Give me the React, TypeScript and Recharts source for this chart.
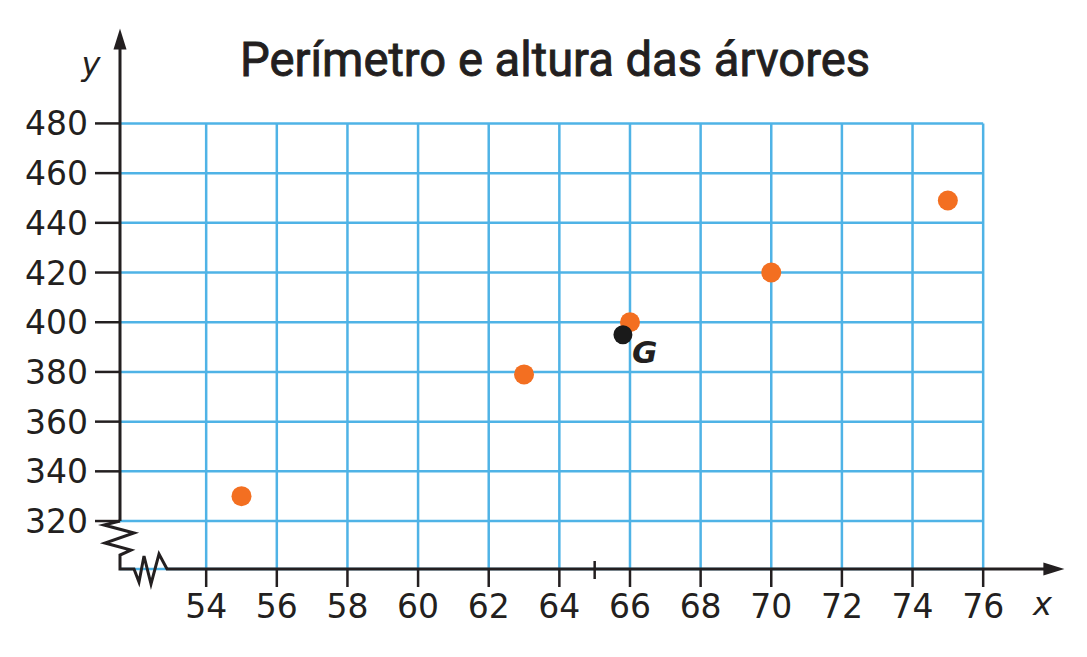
import React from "react";
import {
  ScatterChart,
  Scatter,
  XAxis,
  YAxis,
  ReferenceLine,
} from "recharts";

// perímetro (cm) e altura (cm) das árvores
const perimetro = [55, 63, 66, 70, 75];
const altura = [330, 379, 400, 420, 449];

// ponto médio G
const centroX = [65.8];
const centroY = [395];
const centroNome = ["G"];

const xTicks = [54, 56, 58, 60, 62, 64, 66, 68, 70, 72, 74, 76];
const yTicks = [320, 340, 360, 380, 400, 420, 440, 460, 480];
const xMarca = 65;

const TITLE = "Perímetro e altura das árvores";

const X_MIN = 51.56;
const X_MAX = 78.3;
const Y_MIN = 300.7;
const Y_MAX = 518.2;

const BLUE = "#4FB3E6";
const ORANGE = "#F36F21";
const DARK = "#231F20";
const FONT = "'DejaVu Sans', sans-serif";

const arvores = perimetro.map((p, i) => ({ x: p, y: altura[i] }));
const centro = centroX.map((x, i) => ({ x, y: centroY[i], nome: centroNome[i] }));

const XTick = (props: any) => {
  const { x, y, payload } = props;
  return (
    <text x={x} y={y} dy={27} textAnchor="middle" fontFamily={FONT} fontSize={33} fill={DARK}>
      {payload.value}
    </text>
  );
};

const YTick = (props: any) => {
  const { x, y, payload } = props;
  return (
    <text x={x} y={y} dy={12} textAnchor="end" fontFamily={FONT} fontSize={33} fill={DARK}>
      {payload.value}
    </text>
  );
};

// eixo y com seta e letra "y"
const EixoY = (p: any) => {
  const { x1, y1, x2, y2 } = p;
  return (
    <g>
      <line x1={x1} y1={y1} x2={x2} y2={y2 + 14} stroke={DARK} strokeWidth={3} />
      <polygon points={`${x2},${y2} ${x2 - 6.5},${y2 + 21} ${x2 + 6.5},${y2 + 21}`} fill={DARK} />
      <text x={x2 - 29} y={y2 + 46} textAnchor="middle" fontFamily={FONT} fontStyle="italic" fontSize={32} fill={DARK}>
        y
      </text>
    </g>
  );
};

// eixo x com seta e letra "x"
const EixoX = (p: any) => {
  const { x1, y1, x2 } = p;
  return (
    <g>
      <line x1={x1 + 46} y1={y1} x2={x2 - 14} y2={y1} stroke={DARK} strokeWidth={3} />
      <polygon points={`${x2},${y1} ${x2 - 21},${y1 - 6.5} ${x2 - 21},${y1 + 6.5}`} fill={DARK} />
      <text x={x2 - 22} y={y1 + 46} textAnchor="middle" fontFamily={FONT} fontStyle="italic" fontSize={32} fill={DARK}>
        x
      </text>
    </g>
  );
};

// quebra dos eixos (zigue-zague)
const Quebra = (p: any) => {
  const { x1, y1, y2 } = p;
  const pts = [
    [x1, y1],
    [x1 - 16, y1 + 4],
    [x1 + 14, y1 + 12],
    [x1 - 15, y1 + 22],
    [x1 + 11, y1 + 29],
    [x1, y1 + 34],
    [x1, y2],
    [x1 + 14, y2],
    [x1 + 19, y2 + 13],
    [x1 + 24, y2 - 13],
    [x1 + 31, y2 + 15],
    [x1 + 39, y2 - 15],
    [x1 + 47, y2],
  ]
    .map((q) => q.join(","))
    .join(" ");
  return <polyline points={pts} fill="none" stroke={DARK} strokeWidth={3} strokeLinejoin="miter" />;
};

const MarcaX = (p: any) => {
  const { x1, y1 } = p;
  return <line x1={x1} y1={y1 - 8} x2={x1} y2={y1 + 10} stroke={DARK} strokeWidth={2.5} />;
};

const PontoG = (p: any) => {
  const { cx, cy, payload } = p;
  return (
    <g>
      <circle cx={cx} cy={cy} r={9.5} fill="#1A1A1A" />
      <text
        x={cx + 9}
        y={cy + 28}
        fontFamily={FONT}
        fontStyle="italic"
        fontWeight={600}
        fontSize={31}
        fill={DARK}
      >
        {payload.nome}
      </text>
    </g>
  );
};

export default function App() {
  return (
    <div style={{ position: "absolute", left: 0, top: 0, width: 1087, height: 657, background: "#fff" }}>
      <svg width={1087} height={100} style={{ position: "absolute", left: 0, top: 0, pointerEvents: "none" }}>
        <text
          x={240}
          y={76}
          textLength={630}
          lengthAdjust="spacingAndGlyphs"
          fontFamily="Roboto, sans-serif"
          fontWeight={400}
          fontSize={48}
          fill={DARK}
          stroke={DARK}
          strokeWidth={0.9}
        >
          {TITLE}
        </text>
      </svg>
      <div style={{ position: "absolute", left: 0, top: 0 }}>
        <ScatterChart
          width={1087}
          height={657}
          margin={{ top: 28.5, right: 22.6, bottom: 28, left: 20 }}
        >
          <XAxis
            type="number"
            dataKey="x"
            domain={[X_MIN, X_MAX]}
            ticks={xTicks}
            interval={0}
            allowDataOverflow
            height={60}
            axisLine={false}
            tickLine={{ stroke: DARK, strokeWidth: 2.5 }}
            tickSize={18}
            tickMargin={4}
            tick={<XTick />}
          />
          <YAxis
            type="number"
            dataKey="y"
            domain={[Y_MIN, Y_MAX]}
            ticks={yTicks}
            interval={0}
            allowDataOverflow
            width={100}
            axisLine={false}
            tickLine={{ stroke: DARK, strokeWidth: 2.5 }}
            tickSize={25}
            tickMargin={7}
            tick={<YTick />}
          />

          {/* grade */}
          <ReferenceLine
            segment={[{ x: X_MIN, y: Y_MIN }, { x: xTicks[xTicks.length - 1], y: Y_MIN }]}
            stroke={BLUE}
            strokeWidth={2.5}
            ifOverflow="visible"
          />
          {yTicks.map((t) => (
            <ReferenceLine
              key={`h-${t}`}
              segment={[{ x: X_MIN, y: t }, { x: xTicks[xTicks.length - 1], y: t }]}
              stroke={BLUE}
              strokeWidth={2.5}
              ifOverflow="visible"
            />
          ))}
          {xTicks.map((t) => (
            <ReferenceLine
              key={`v-${t}`}
              segment={[{ x: t, y: Y_MIN }, { x: t, y: yTicks[yTicks.length - 1] }]}
              stroke={BLUE}
              strokeWidth={2.5}
              ifOverflow="visible"
            />
          ))}

          {/* eixos */}
          <ReferenceLine
            segment={[{ x: X_MIN, y: Y_MIN }, { x: X_MAX, y: Y_MIN }]}
            ifOverflow="visible"
            shape={(p: any) => <EixoX {...p} />}
          />
          <ReferenceLine
            segment={[{ x: X_MIN, y: yTicks[0] }, { x: X_MIN, y: Y_MAX }]}
            ifOverflow="visible"
            shape={(p: any) => <EixoY {...p} />}
          />
          <ReferenceLine
            segment={[{ x: X_MIN, y: yTicks[0] }, { x: X_MIN, y: Y_MIN }]}
            ifOverflow="visible"
            shape={(p: any) => <Quebra {...p} />}
          />
          <ReferenceLine
            segment={[{ x: xMarca, y: Y_MIN }, { x: xMarca, y: Y_MIN }]}
            ifOverflow="visible"
            shape={(p: any) => <MarcaX {...p} />}
          />

          <Scatter
            data={arvores}
            fill={ORANGE}
            isAnimationActive={false}
            shape={(p: any) => <circle cx={p.cx} cy={p.cy} r={10} fill={ORANGE} />}
          />
          <Scatter data={centro} isAnimationActive={false} shape={(p: any) => <PontoG {...p} />} />
        </ScatterChart>
      </div>
    </div>
  );
}
